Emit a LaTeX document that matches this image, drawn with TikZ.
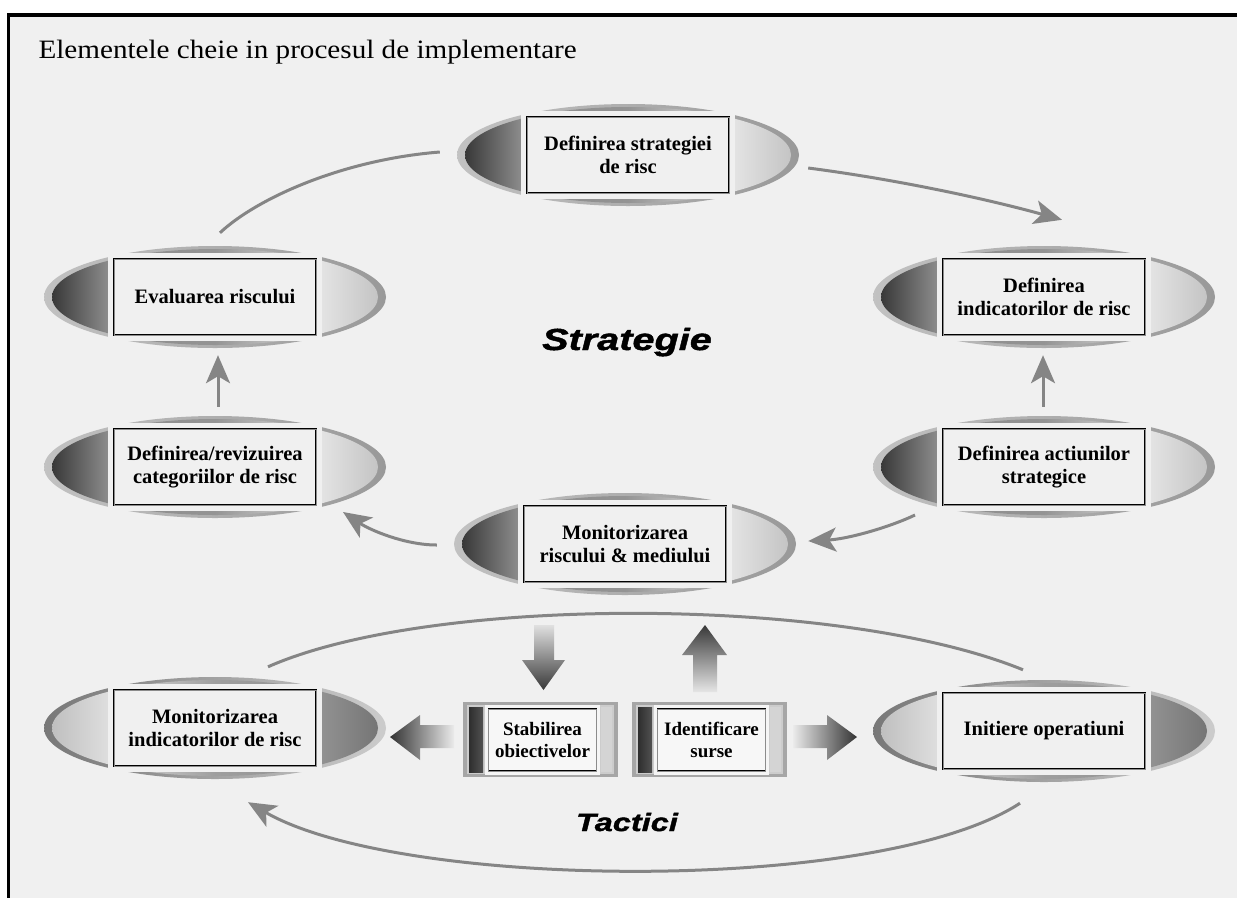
\documentclass[tikz,border=0pt]{standalone}
\usepackage{fontspec}
\setmainfont{Liberation Serif}
\newfontfamily\titlefont{Liberation Serif}[FakeStretch=1.1]
\newfontfamily\blackfont{Liberation Sans}[FakeStretch=1.3,FakeBold=1.5]
\usetikzlibrary{shapes.geometric,arrows.meta,calc}

\definecolor{bgcol}{HTML}{F0F0F0}
\definecolor{linegray}{HTML}{858585}

% inner fill of the ovals: dark left end, light right end
\pgfdeclarehorizontalshading{ovalinL}{100bp}{rgb(0bp)=(.22,.22,.22); rgb(25bp)=(.22,.22,.22); rgb(33.6bp)=(.55,.55,.55); rgb(50bp)=(.58,.58,.58); rgb(66.4bp)=(.89,.89,.89); rgb(75bp)=(.77,.77,.77); rgb(100bp)=(.77,.77,.77)}
% mirrored fill: light left end, dark right end
\pgfdeclarehorizontalshading{ovalinR}{100bp}{rgb(0bp)=(.75,.75,.75); rgb(25bp)=(.75,.75,.75); rgb(33.6bp)=(.87,.87,.87); rgb(50bp)=(.62,.62,.62); rgb(66.4bp)=(.57,.57,.57); rgb(75bp)=(.46,.46,.46); rgb(100bp)=(.46,.46,.46)}
% outer rims
\pgfdeclarehorizontalshading{rimL}{100bp}{rgb(0bp)=(.76,.76,.76); rgb(25bp)=(.76,.76,.76); rgb(75bp)=(.6,.6,.6); rgb(100bp)=(.6,.6,.6)}
\pgfdeclarehorizontalshading{rimR}{100bp}{rgb(0bp)=(.47,.47,.47); rgb(25bp)=(.47,.47,.47); rgb(75bp)=(.8,.8,.8); rgb(100bp)=(.8,.8,.8)}

\tikzset{
  ovalrim/.style={ellipse, minimum width=342, minimum height=102, inner sep=0pt, shade},
  ovalbox/.style={draw=black, double=black!45, double distance=0.5pt, line width=0.8pt,
    fill=bgcol, minimum width=202, minimum height=76, inner sep=2pt, align=center,
    font=\bfseries\fontsize{20.5}{23}\selectfont},
  srcbox/.style={draw=black, double=black!45, double distance=0.4pt, line width=0.7pt,
    fill=black!3, minimum width=108, minimum height=62, inner sep=1pt, align=center,
    font=\bfseries\fontsize{19}{22}\selectfont},
  conn/.style={draw=linegray, line width=3pt},
  connarrow/.style={conn, -{Stealth[length=28pt,width=24pt,inset=7pt]}},
  bigword/.style={font=\blackfont\bfseries\itshape},
}

% oval with a framed label: name, x, y, text, L (dark left) or R (dark right)
\newcommand\ovalunit[5]{%
  \node[ovalrim, shading=rim#5] (#1O) at (#2,#3) {};
  \shade[shading=ovalin#5] (#2,#3) ellipse [x radius=163, y radius=48];
  \fill[bgcol] (#2-107,#3-44) rectangle (#2+107,#3+44);
  \node[ovalbox] (#1) at (#2,#3) {#4};
}

% small framed source box: name, left edge of the frame, text
\newcommand\srcunit[3]{%
  \fill[black!35] (#2,702) rectangle (#2+155,777);
  \fill[black!20] (#2+4,705) rectangle (#2+151,774);
  \shade[left color=black!82, right color=black!68] (#2+6,707) rectangle (#2+20,772);
  \fill[black!4] (#2+22,705) rectangle (#2+137,775);
  \fill[black!17] (#2+138,707) rectangle (#2+149,772);
  \node[srcbox] (#1) at (#2+79.5,740) {#3};
}

\begin{document}
\begin{tikzpicture}[x=1pt, y=-1pt]
\useasboundingbox (0,0) rectangle (1237,898);
\fill[white] (0,0) rectangle (1237,898);
\fill[bgcol] (8,13) rectangle (1237,898);
\fill[black] (7,13) rectangle (1237,16.5);
\fill[black] (7,13) rectangle (10,898);

\node[anchor=base west, font=\titlefont\fontsize{26.5}{30}\selectfont] (title) at (35,58)
  {Elementele cheie in procesul de implementare};

% strategy cycle
\ovalunit{strat}{628}{155}{Definirea strategiei\\de risc}{L}
\ovalunit{eval}{215}{297}{Evaluarea riscului}{L}
\ovalunit{defcat}{215}{467}{Definirea/revizuirea\\categoriilor de risc}{L}
\ovalunit{indic}{1044}{297}{Definirea\\indicatorilor de risc}{L}
\ovalunit{acti}{1044}{467}{Definirea actiunilor\\strategice}{L}
\ovalunit{monit}{625}{544}{Monitorizarea\\riscului \& mediului}{L}

% tactics row
\ovalunit{monind}{215}{728}{Monitorizarea\\indicatorilor de risc}{R}
\ovalunit{init}{1044}{731}{Initiere operatiuni}{R}
\srcunit{stab}{463}{Stabilirea\\obiectivelor}
\srcunit{ident}{632}{Identificare\\surse}

% block arrows
\shade[top color=black!12, bottom color=black!78]
  (534,625) -- (554,625) -- (554,660) -- (565,660) -- (543.5,690) -- (522,660) -- (534,660) -- cycle;
\shade[top color=black!78, bottom color=black!10]
  (705,625) -- (727,655) -- (717,655) -- (717,692) -- (693,692) -- (693,655) -- (682,655) -- cycle;
\shade[left color=black!80, right color=black!8]
  (390,737) -- (420,715) -- (420,725) -- (454,725) -- (454,748) -- (420,748) -- (420,760) -- cycle;
\shade[left color=black!8, right color=black!80]
  (857,737) -- (827,715) -- (827,725) -- (793,725) -- (793,748) -- (827,748) -- (827,760) -- cycle;

% thin connectors of the strategy cycle
\draw[conn] ($(evalO.north)+(5,-13)$) .. controls ($(evalO.north)+(40,-46)$) and ($(stratO.west)+(-117,5)$) .. ($(stratO.west)+(-17,-3)$);
\draw[connarrow] ($(stratO.east)+(9,13)$) .. controls ($(stratO.east)+(101,25)$) and ($(indicO.north)+(-54,-46)$) .. ($(indicO.north)+(18,-26)$);
\draw[connarrow] ($(actiO.north)+(-1,-9)$) -- ($(indicO.south)+(-1,7)$);
\draw[connarrow] ($(defcatO.north)+(3,-9)$) -- ($(evalO.south)+(3,7)$);
\draw[connarrow] ($(actiO.center)+(-129,48)$) .. controls ($(actiO.center)+(-154,60)$) and ($(monitO.east)+(52,-5)$) .. ($(monitO.east)+(12,-3)$);
\draw[connarrow] ($(monitO.west)+(-17,1)$) .. controls ($(monitO.west)+(-49,1)$) and ($(defcatO.center)+(155,63)$) .. ($(defcatO.center)+(128,45)$);

% arcs of the tactics row
\draw[conn] ($(monindO.north)+(53,-10)$) .. controls (430,595) and (840,595) .. ($(initO.north)+(-21,-10)$);
\draw[connarrow] ($(initO.south)+(-24,21)$) .. controls (880,895) and (400,890) .. ($(monindO.south)+(33,23)$);

\node[bigword, anchor=base, font=\blackfont\bfseries\itshape\fontsize{30.5}{34}\selectfont] (strategie) at (627,350) {Strategie};
\node[bigword, anchor=base, font=\blackfont\bfseries\itshape\fontsize{25}{28}\selectfont] (tactici) at (627,831) {Tactici};
\end{tikzpicture}
\end{document}
